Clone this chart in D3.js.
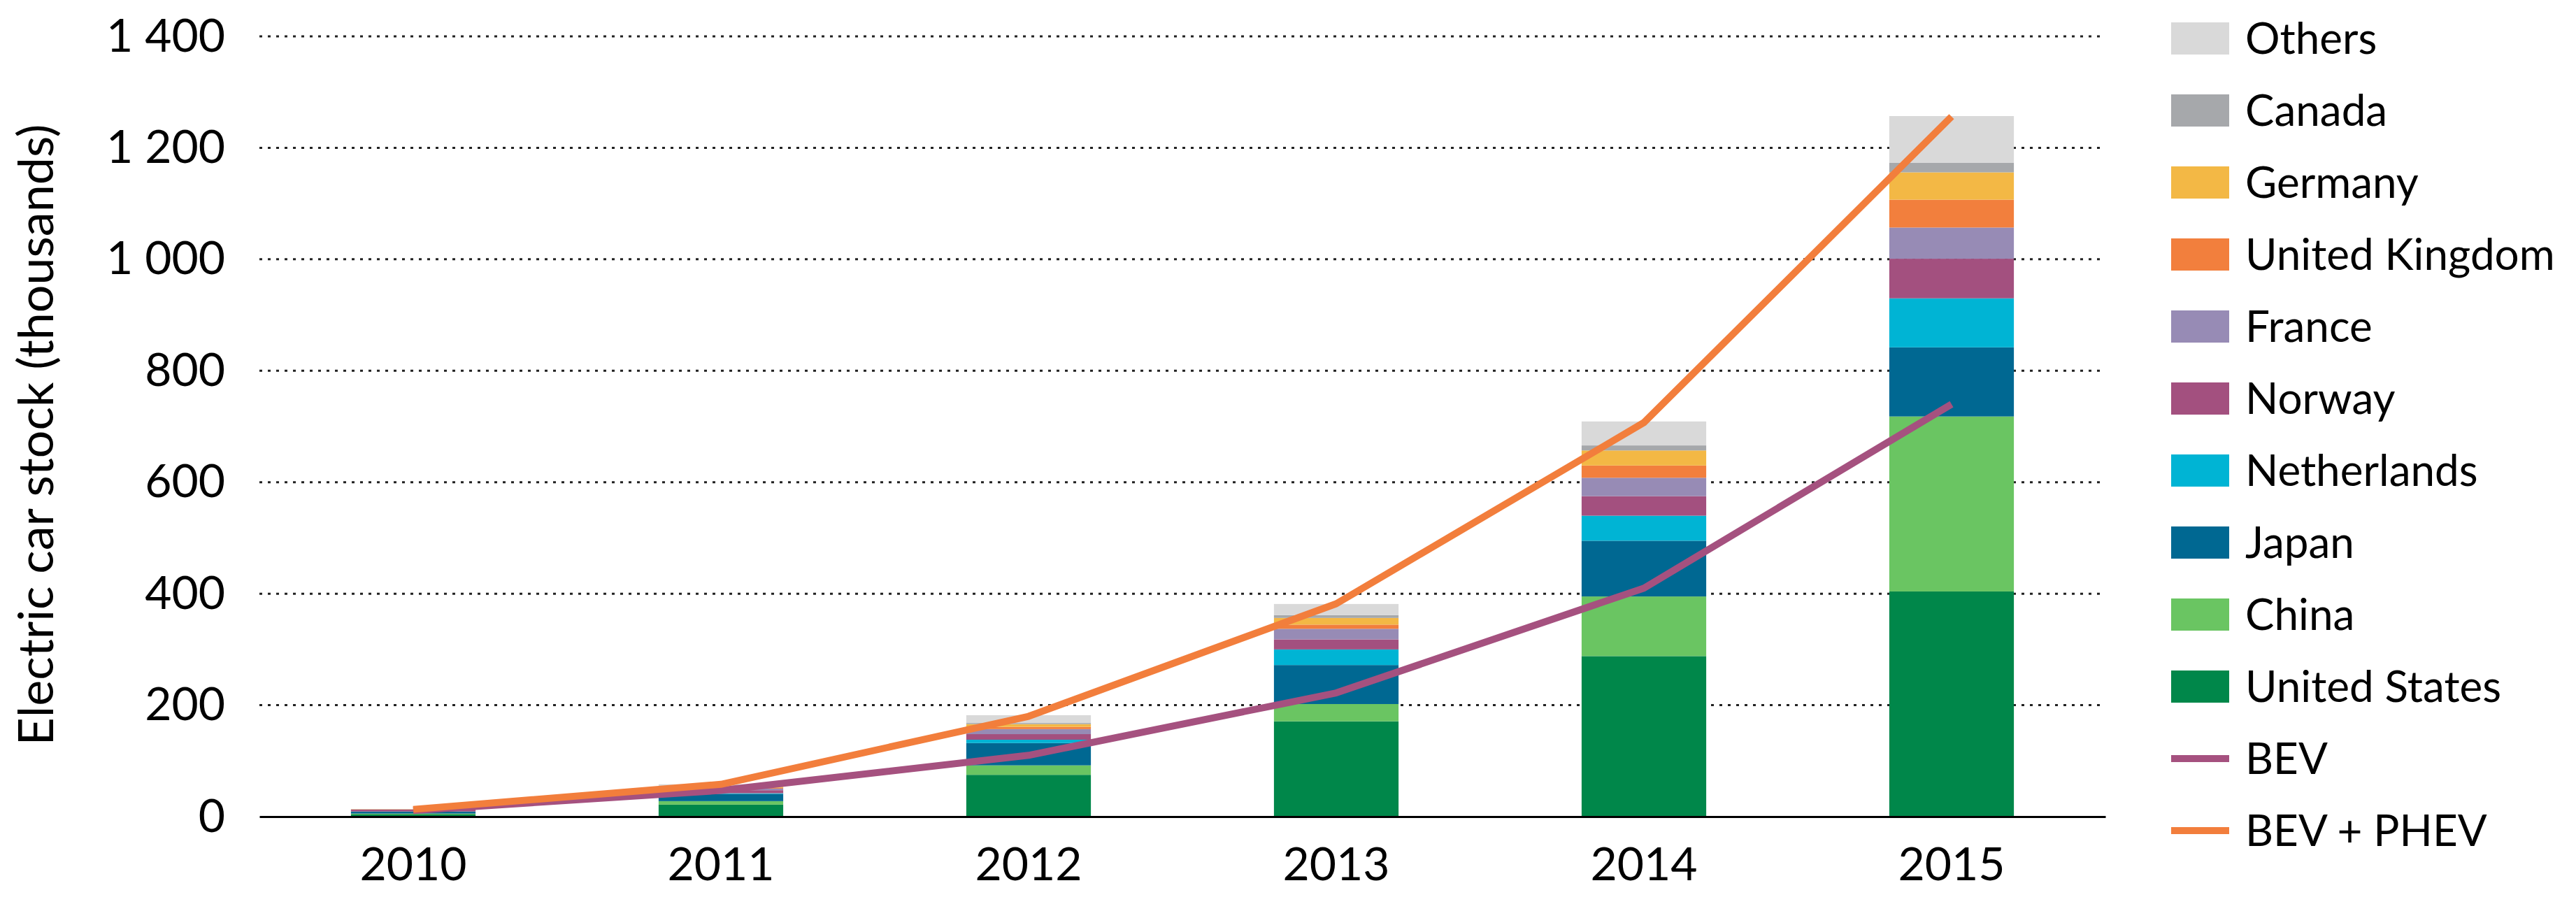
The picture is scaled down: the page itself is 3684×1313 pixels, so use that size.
<!DOCTYPE html>
<html><head><meta charset="utf-8">
<script src="https://cdn.jsdelivr.net/npm/d3@7"></script>
<style>body{margin:0;background:#fff}</style>
</head><body><svg id="c" width="3684" height="1313"></svg>
<script>
const years = ["2010","2011","2012","2013","2014","2015"];
const seriesNames = ["United States","China","Japan","Netherlands","Norway","France","United Kingdom","Germany","Canada","Others"];
const seriesColors = ["#00874A","#6AC562","#006892","#00B4D4","#A3507F","#978BB5","#F27F3D","#F3B845","#A6A8AB","#D9D9D9"];
const unitedStates = [3.8, 21.5, 75, 171, 288, 404];
const china = [1.6, 6.3, 17, 31, 107, 314];
const japan = [3.5, 13.1, 40, 70, 100, 124];
const netherlands = [0.3, 1.1, 6, 28, 45, 88];
const norway = [3.4, 5.4, 10, 18, 35, 71];
const france = [0.3, 2.9, 9, 19, 33, 56];
const unitedKingdom = [0.3, 1.4, 4, 7.5, 22, 50];
const germany = [0.3, 2.0, 5, 12, 27, 49];
const canada = [0.0, 0.5, 2, 5, 9, 17];
const others = [0.1, 3.8, 14, 20, 43, 84];
const bev = [11, 47, 110, 222, 410, 740];
const bevPhev = [13, 58, 180, 382, 707, 1256];
const lineNames = ["BEV","BEV + PHEV"];
const lineColors = ["#A5517F","#F27E3C"];
const yTicks = [0,200,400,600,800,1000,1200,1400];
const yTickLabels = ["0","200","400","600","800","1 000","1 200","1 400"];
const yTitle = "Electric car stock (thousands)";

const seriesValues = [unitedStates, china, japan, netherlands, norway, france, unitedKingdom, germany, canada, others];
const rows = years.map((y,i)=>{const r={year:y}; seriesNames.forEach((n,k)=>r[n]=seriesValues[k][i]); return r;});

const svg = d3.select("#c");
const FONT = "Lato, 'Open Sans', sans-serif";
const x = d3.scaleBand().domain(years).range([371, 3011]).paddingInner(0.595).paddingOuter(0.2975);
const y = d3.scaleLinear().domain([0,1400]).range([1168, 52]);

// gridlines
svg.append("g").selectAll("line").data(yTicks.filter(d=>d>0)).join("line")
  .attr("x1", 371).attr("x2", 3011).attr("y1", d=>y(d)).attr("y2", d=>y(d))
  .attr("stroke", "#222").attr("stroke-width", 3).attr("stroke-dasharray", "4,8");

// y axis labels
const yAxis = d3.axisLeft(y).tickValues(yTicks).tickFormat((d,i)=>yTickLabels[i]).tickSize(0).tickPadding(0);
const gy = svg.append("g").attr("transform","translate(322,0)").call(yAxis);
gy.select(".domain").remove();
gy.selectAll("text").attr("font-family", FONT).attr("font-size", 66).attr("fill","#000");

// y title
svg.append("text").attr("transform","translate(76,622) rotate(-90)").attr("text-anchor","middle")
  .attr("font-family", FONT).attr("font-size", 70).attr("fill","#000").text(yTitle);

// stacked bars
const stack = d3.stack().keys(seriesNames)(rows);
svg.append("g").selectAll("g").data(stack).join("g").attr("fill",(d,i)=>seriesColors[i])
  .selectAll("rect").data(d=>d).join("rect")
  .attr("x", d=>x(d.data.year)).attr("width", x.bandwidth())
  .attr("y", d=>y(d[1])).attr("height", d=>Math.max(0, y(d[0])-y(d[1])));

// x axis
const xAxis = d3.axisBottom(x).tickSize(0).tickPadding(44);
const gx = svg.append("g").attr("transform",`translate(0,${y(0)})`).call(xAxis);
gx.select(".domain").attr("stroke","#000").attr("stroke-width",3);
gx.selectAll("text").attr("font-family", FONT).attr("font-size", 66).attr("fill","#000");

// lines
const lineData = [bev, bevPhev];
const line = d3.line().x((d,i)=>x(years[i])+x.bandwidth()/2).y(d=>y(d));
svg.append("g").selectAll("path").data(lineData).join("path")
  .attr("d", line).attr("fill","none").attr("stroke",(d,i)=>lineColors[i]).attr("stroke-width",10)
  .attr("stroke-linejoin","round");

// legend
const legendItems = seriesNames.slice().reverse().map((n,i)=>({name:n, color:seriesColors[seriesNames.length-1-i], type:"rect"}))
  .concat(lineNames.map((n,i)=>({name:n, color:lineColors[i], type:"line"})));
const lg = svg.append("g").selectAll("g").data(legendItems).join("g")
  .attr("transform",(d,i)=>`translate(3105,${55+i*103})`);
lg.filter(d=>d.type==="rect").append("rect").attr("x",0).attr("y",-23).attr("width",83).attr("height",46).attr("fill",d=>d.color);
lg.filter(d=>d.type==="line").append("line").attr("x1",0).attr("x2",83).attr("y1",0).attr("y2",0).attr("stroke",d=>d.color).attr("stroke-width",10);
lg.append("text").attr("x",106).attr("y",0).attr("dy","0.35em").attr("font-family",FONT).attr("font-size",62).attr("fill","#000").text(d=>d.name);
</script></body></html>
